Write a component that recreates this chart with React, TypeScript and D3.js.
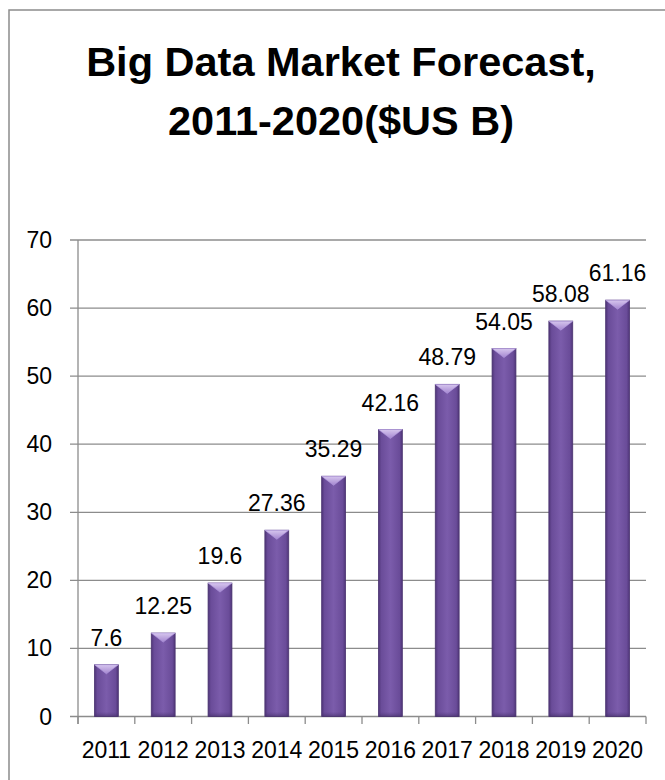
import React from "react";
import * as d3 from "d3";

const years = ["2011", "2012", "2013", "2014", "2015", "2016", "2017", "2018", "2019", "2020"];
const values = [7.6, 12.25, 19.6, 27.36, 35.29, 42.16, 48.79, 54.05, 58.08, 61.16];
const yTicks = [0, 10, 20, 30, 40, 50, 60, 70];
const titleLines = ["Big Data Market Forecast,", "2011-2020($US B)"];

const W = 665;
const H = 780;
const FONT = "'Liberation Sans', Arial, sans-serif";

export default function App() {
  const x = d3.scaleBand<string>().domain(years).range([78, 646]).paddingInner(0.58).paddingOuter(0.29);
  const y = d3.scaleLinear().domain([0, 70]).range([716.5, 240]);
  const step = x.step();
  const bw = x.bandwidth();
  const boundaries = d3.range(years.length + 1).map((i) => 78 + i * step);

  return (
    <svg
      width={W}
      height={H}
      style={{ position: "absolute", left: 0, top: 0, background: "#fff" }}
      fontFamily={FONT}
    >
      <defs>
        <linearGradient id="barGrad" x1="0" x2="1" y1="0" y2="0">
          <stop offset="0" stopColor="#4f3578" />
          <stop offset="0.12" stopColor="#6a4c99" />
          <stop offset="0.5" stopColor="#7b5cab" />
          <stop offset="0.88" stopColor="#6a4c99" />
          <stop offset="1" stopColor="#4f3578" />
        </linearGradient>
        <linearGradient id="topGrad" x1="0" x2="0" y1="0" y2="1">
          <stop offset="0" stopColor="#d6c6ee" />
          <stop offset="1" stopColor="#a486d0" />
        </linearGradient>
        <linearGradient id="botGrad" x1="0" x2="0" y1="0" y2="1">
          <stop offset="0" stopColor="#5a3f85" stopOpacity="0" />
          <stop offset="1" stopColor="#3e2a60" stopOpacity="0.6" />
        </linearGradient>
      </defs>

      {/* outer chart border */}
      <rect x={9} y={10} width={W + 20} height={H + 20} fill="none" stroke="#8c8c8c" strokeWidth={1.5} />

      {/* title */}
      {titleLines.map((t, i) => (
        <text
          key={t}
          x={341}
          y={76 + i * 59}
          textAnchor="middle"
          fontWeight="bold"
          fontSize={41.5}
          fill="#000"
        >
          {t}
        </text>
      ))}

      {/* gridlines + y ticks */}
      {yTicks.map((v) => (
        <g key={v}>
          <line x1={70} x2={646} y1={y(v)} y2={y(v)} stroke="#8c8c8c" strokeWidth={1.3} />
          <text x={52} y={y(v)} dy="0.35em" textAnchor="end" fontSize={23} fill="#000">
            {v}
          </text>
        </g>
      ))}

      {/* y axis */}
      <line x1={78} x2={78} y1={y(70)} y2={724} stroke="#8c8c8c" strokeWidth={1.3} />
      {/* x tick marks */}
      {boundaries.map((bx, i) => (
        <line key={i} x1={bx} x2={bx} y1={y(0)} y2={724} stroke="#8c8c8c" strokeWidth={1.3} />
      ))}

      {/* bars */}
      {years.map((yr, i) => {
        const x0 = x(yr) as number;
        const top = y(values[i]);
        const bot = y(0);
        const cx = x0 + bw / 2;
        return (
          <g key={yr}>
            <rect x={x0} y={top} width={bw} height={bot - top} fill="url(#barGrad)" stroke="#4a3470" strokeWidth={0.8} />
            <rect x={x0 + 0.5} y={bot - 5} width={bw - 1} height={5} fill="url(#botGrad)" />
            <path
              d={`M${x0},${top} L${x0 + bw},${top} L${cx},${top + 9} Z`}
              fill="url(#topGrad)"
              stroke="#b49be0"
              strokeWidth={0.6}
            />
            <text x={cx} y={top - 19} textAnchor="middle" fontSize={23} fill="#000">
              {values[i]}
            </text>
          </g>
        );
      })}

      {/* x labels */}
      {years.map((yr) => (
        <text key={yr} x={(x(yr) as number) + bw / 2} y={758} textAnchor="middle" fontSize={23} fill="#000">
          {yr}
        </text>
      ))}
    </svg>
  );
}
